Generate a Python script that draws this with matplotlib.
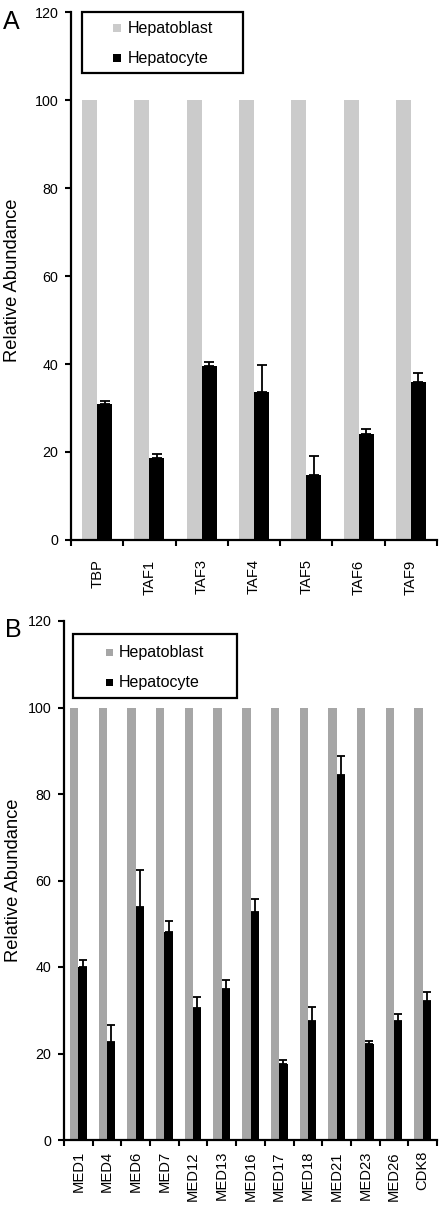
import matplotlib
matplotlib.use('Agg')
import matplotlib.pyplot as plt
from matplotlib.patches import Rectangle
import numpy as np

plt.rcParams['font.family'] = ['Liberation Sans', 'DejaVu Sans']

series = ['Hepatoblast', 'Hepatocyte']

a_genes = ['TBP', 'TAF1', 'TAF3', 'TAF4', 'TAF5', 'TAF6', 'TAF9']
a_blast = [100, 100, 100, 100, 100, 100, 100]
a_cyte = [30.8, 18.7, 39.6, 33.7, 14.8, 24.1, 35.9]
a_err = [0.9, 0.9, 0.8, 6.1, 4.4, 1.1, 2.0]

b_genes = ['MED1', 'MED4', 'MED6', 'MED7', 'MED12', 'MED13', 'MED16',
           'MED17', 'MED18', 'MED21', 'MED23', 'MED26', 'CDK8']
b_blast = [100] * 13
b_cyte = [39.9, 22.6, 53.8, 48.0, 30.5, 35.0, 52.8, 17.6, 27.4, 84.3, 22.2, 27.5, 32.2]
b_err = [1.8, 4.1, 8.7, 2.7, 2.6, 2.0, 3.0, 0.9, 3.3, 4.5, 0.8, 1.7, 2.0]

yticks = [0, 20, 40, 60, 80, 100, 120]

W, H = 447, 1208
fig = plt.figure(figsize=(W / 100, H / 100), dpi=100)


def px_axes(l, t, r, b):
    return fig.add_axes([l / W, 1 - b / H, (r - l) / W, (b - t) / H])


def fx(x):
    return x / W


def fy(y):
    return 1 - y / H


def panel(ax, genes, blast, cyte, err, gray, bw, xpad, cap):
    x = np.arange(len(genes))
    ax.bar(x - bw / 2, blast, bw, color=gray, linewidth=0)
    ax.bar(x + bw / 2, cyte, bw, color='black', linewidth=0)
    ax.errorbar(x + bw / 2, cyte, yerr=[np.zeros(len(err)), err], fmt='none',
                ecolor='black', elinewidth=1.3, capsize=cap, capthick=1.3)
    ax.set_xlim(-0.5, len(genes) - 0.5)
    ax.set_ylim(0, 120)
    ax.set_yticks(yticks)
    ax.set_yticklabels([str(v) for v in yticks], fontsize=10.3)
    ax.set_xticks(np.arange(len(genes) + 1) - 0.5)
    ax.set_xticklabels([])
    ax.set_xticks(x, minor=True)
    ax.set_xticklabels(genes, minor=True, rotation=90, fontsize=10.6)
    ax.tick_params(axis='x', which='minor', length=0, pad=xpad)
    ax.tick_params(axis='x', which='major', length=4, width=1.5, direction='out')
    ax.tick_params(axis='y', length=4, width=1.5, direction='out', pad=5)
    for s in ['top', 'right']:
        ax.spines[s].set_visible(False)
    for s in ['left', 'bottom']:
        ax.spines[s].set_linewidth(1.6)


def legend(box, hx, tx, rows, colors, hs):
    l, t, r, b = box
    fig.add_artist(Rectangle((fx(l), fy(b)), fx(r - l), (b - t) / H, fill=False,
                             edgecolor='black', linewidth=1.6, transform=fig.transFigure))
    for name, c, ry in zip(series, colors, rows):
        fig.add_artist(Rectangle((fx(hx), fy(ry + hs / 2)), fx(hs), hs / H,
                                 facecolor=c, edgecolor='none', transform=fig.transFigure))
        fig.text(fx(tx), fy(ry), name, fontsize=11.5, va='center', ha='left')


# Panel A
axA = px_axes(71, 12, 437, 540)
panel(axA, a_genes, a_blast, a_cyte, a_err, '#cbcbcb', 0.287, 14, 3.6)
fig.text(fx(13), fy(280), 'Relative Abundance', rotation=90, ha='center', va='center', fontsize=13.2)
fig.text(fx(3), fy(29), 'A', fontsize=18, va='baseline')
legend((82, 12, 243, 73), 113, 128, [28, 58], ['#cbcbcb', 'black'], 8)

# Panel B
axB = px_axes(64, 621, 437, 1140)
panel(axB, b_genes, b_blast, b_cyte, b_err, '#a6a6a6', 0.29, 8, 3)
fig.text(fx(13.5), fy(880), 'Relative Abundance', rotation=90, ha='center', va='center', fontsize=13.2)
fig.text(fx(5), fy(637), 'B', fontsize=18, va='baseline')
legend((73, 634, 237, 698), 106, 119, [652, 682], ['#a6a6a6', 'black'], 7)

fig.savefig('out.png', dpi=100)
